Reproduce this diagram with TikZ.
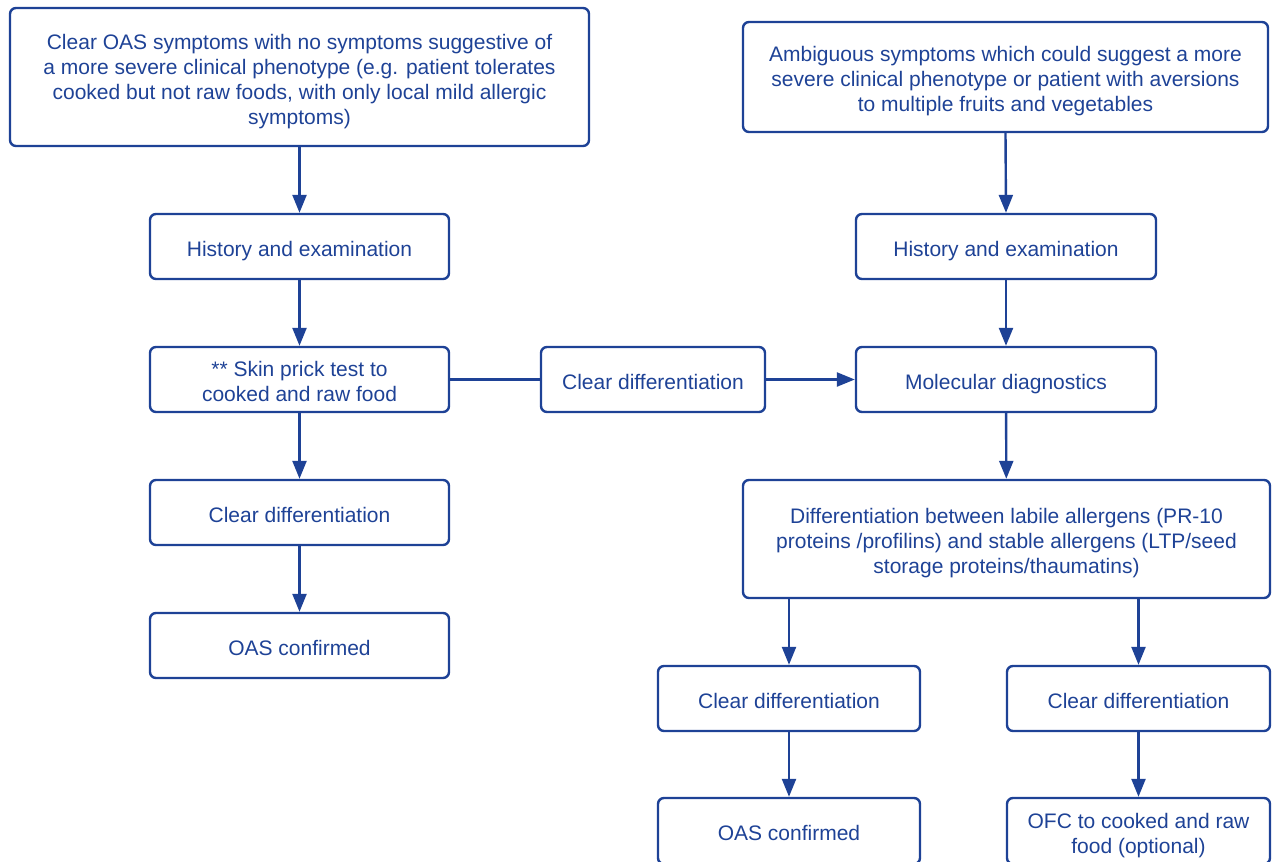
\documentclass[tikz,border=0pt]{standalone}
\usepackage{fontspec}
\setmainfont{Liberation Sans}
\usetikzlibrary{arrows.meta}
\definecolor{navy}{RGB}{30,66,150}
\newcommand\st{\rule[-5pt]{0pt}{29pt}}
\begin{document}
\lineskiplimit=-100pt
\begin{tikzpicture}[x=1pt,y=-1pt,
  box/.style={draw=navy,line width=2.4pt,rounded corners=6pt,text=navy,align=center,
    font=\fontsize{21}{25}\selectfont,inner sep=0pt},
  arr/.style={draw=navy,line width=2.4pt,-{Triangle[length=18pt,width=14pt]}},
  ln/.style={draw=navy,line width=2.4pt}]
\clip (0,0) rectangle (1272,862);
\useasboundingbox (0,0) rectangle (1272,862);
\node[box,minimum width=579pt,minimum height=138pt] (b1) at (299.5,77) {\st Clear OAS symptoms with no symptoms suggestive of\\\st a more severe clinical phenotype (e.g. patient tolerates\\\st cooked but not raw foods, with only local mild allergic\\\st symptoms)};
\node[box,minimum width=525pt,minimum height=110pt] (b2) at (1005.5,77) {\st Ambiguous symptoms which could suggest a more\\\st severe clinical phenotype or patient with aversions\\\st to multiple fruits and vegetables};
\node[box,minimum width=299pt,minimum height=65pt] (hl) at (299.5,246.5) {\st History and examination};
\node[box,minimum width=300pt,minimum height=65pt] (hr) at (1006,246.5) {\st History and examination};
\node[box,minimum width=299pt,minimum height=65pt] (spt) at (299.5,379.5) {\st ** Skin prick test to\\\st cooked and raw food};
\node[box,minimum width=224pt,minimum height=65pt] (cdm) at (653,379.5) {\st Clear differentiation};
\node[box,minimum width=300pt,minimum height=65pt] (mol) at (1006,379.5) {\st Molecular diagnostics};
\node[box,minimum width=299pt,minimum height=65pt] (cdl) at (299.5,512.5) {\st Clear differentiation};
\node[box,minimum width=299pt,minimum height=65pt] (oasl) at (299.5,645.5) {\st OAS confirmed};
\node[box,minimum width=527pt,minimum height=118pt] (diff) at (1006.5,539) {\st Differentiation between labile allergens (PR-10\\\st proteins /profilins) and stable allergens (LTP/seed\\\st storage proteins/thaumatins)};
\node[box,minimum width=262pt,minimum height=65pt] (cdbl) at (789,698.5) {\st Clear differentiation};
\node[box,minimum width=263pt,minimum height=65pt] (cdbr) at (1138.5,698.5) {\st Clear differentiation};
\node[box,minimum width=262pt,minimum height=66pt] (oasb) at (789,831) {\st OAS confirmed};
\node[box,minimum width=263pt,minimum height=66pt] (ofc) at (1138.5,831) {\st OFC to cooked and raw\\\st food (optional)};
\draw[arr] (b1.south) -- (hl.north);
\draw[arr] (hl) -- (spt);
\draw[arr] (spt) -- (cdl);
\draw[arr] (cdl) -- (oasl);
\draw[arr] (b2.south) -- (hr.north);
\draw[arr] (hr) -- (mol);
\draw[arr] (mol) -- (diff);
\draw[ln] (spt) -- (cdm);
\draw[arr] (cdm) -- (mol);
\draw[arr] (cdbl.north |- diff.south) -- (cdbl.north);
\draw[arr] (cdbr.north |- diff.south) -- (cdbr.north);
\draw[arr] (cdbl) -- (oasb);
\draw[arr] (cdbr) -- (ofc);
\end{tikzpicture}
\end{document}
